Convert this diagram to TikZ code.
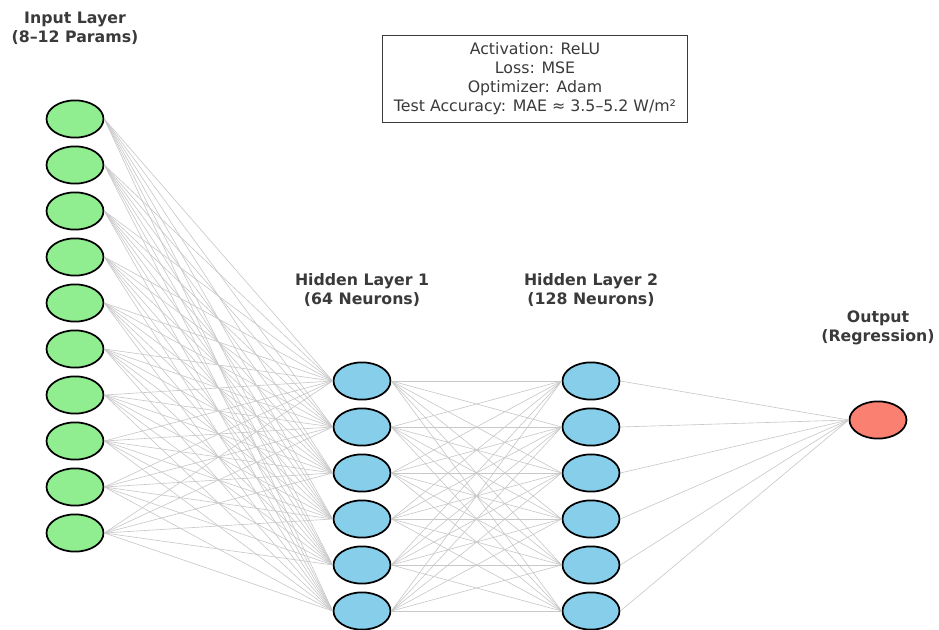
\documentclass[tikz,border=0pt]{standalone}
\usepackage{fontspec}
\setmainfont{DejaVu Sans}
\usetikzlibrary{shapes.geometric}
\definecolor{inpgreen}{HTML}{90EE90}
\definecolor{hidblue}{HTML}{87CEEB}
\definecolor{outsalmon}{HTML}{FA8072}
\definecolor{edgegray}{HTML}{C8C8C8}
\definecolor{labgray}{HTML}{3A3A3A}
\begin{document}
\begin{tikzpicture}[x=0.0223cm,y=-0.0223cm,
  neuron/.style={ellipse,draw=black,line width=1.1pt,minimum width=1.27cm,minimum height=0.83cm,inner sep=0pt},
  link/.style={edgegray,line width=0.4pt},
  layerlabel/.style={labgray,font=\bfseries\fontsize{10}{12}\selectfont,align=center}]
\useasboundingbox (0,0) rectangle (939,630);
% neurons
\foreach \i in {1,...,10}
  \node [neuron,fill=inpgreen] (in\i) at (75,{119+46*(\i-1)}) {};
\foreach \i in {1,...,6}
  \node [neuron,fill=hidblue] (ha\i) at (362,{381+46*(\i-1)}) {};
\foreach \i in {1,...,6}
  \node [neuron,fill=hidblue] (hb\i) at (591,{381+46*(\i-1)}) {};
\node [neuron,fill=outsalmon] (out) at (878,420) {};
% connections
\foreach \i in {1,...,10}
  \foreach \j in {1,...,6}
    \draw [link] (in\i.east) -- (ha\j.west);
\foreach \i in {1,...,6}
  \foreach \j in {1,...,6}
    \draw [link] (ha\i.east) -- (hb\j.west);
\foreach \j in {1,...,6}
  \draw [link] (hb\j.east) -- (out.west);
% labels
\node [layerlabel] (inlab) at (75,28) {Input Layer\\(8–12 Params)};
\node [layerlabel] (halab) at (362,290) {Hidden Layer 1\\(64 Neurons)};
\node [layerlabel] (hblab) at (591,290) {Hidden Layer 2\\(128 Neurons)};
\node [layerlabel] (outlab) at (878,328) {Output\\(Regression)};
\node [draw=black,line width=0.6pt,labgray,minimum width=6.78cm,minimum height=1.96cm,align=center,
  font=\fontsize{10}{12}\selectfont] (info) at (535,79)
  {Activation: ReLU\\Loss: MSE\\Optimizer: Adam\\Test Accuracy: MAE ≈ 3.5–5.2 W/m²};
\end{tikzpicture}
\end{document}
